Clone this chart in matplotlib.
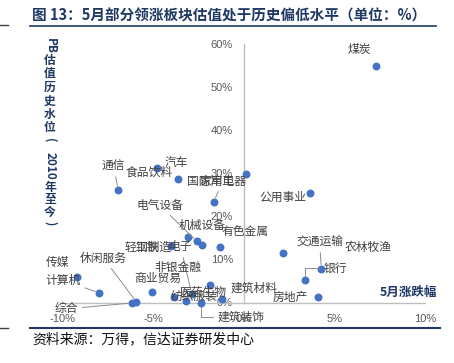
import matplotlib
matplotlib.use("Agg")
import matplotlib.pyplot as plt

plt.rcParams['font.family'] = ['Noto Sans CJK SC', 'DejaVu Sans']

# data: May change (%) vs PB historical percentile since 2010 (%)
industries = ['煤炭', '通信', '食品饮料', '汽车', '国防军工', '家用电器', '电气设备',
              '机械设备', '有色金属', '轻工制造', '钢铁', '电子', '非银金融', '商业贸易',
              '纺织服装', '医药生物', '建筑材料', '建筑装饰', '传媒', '计算机',
              '休闲服务', '综合', '公用事业', '交通运输', '农林牧渔', '银行', '房地产']
may_chg = [7.28, -6.94, -4.83, -3.67, 0.11, -1.67, -2.61,
           -3.11, -1.33, -4.06, -2.33, -2.89, -1.89, -5.06,
           -3.89, -3.22, -1.22, -2.39, -9.22, -8.00,
           -5.94, -6.17, 3.67, 4.28, 2.17, 3.39, 4.11]
pb_pct = [54.7, 26.0, 31.1, 28.6, 29.7, 23.3, 14.2,
          15.2, 12.8, 13.1, 13.3, 2.0, 4.1, 2.4,
          1.3, 0.3, 0.8, -0.1, 5.9, 2.2,
          0.1, -0.1, 25.3, 7.8, 11.5, 5.2, 1.3]

x_ticks = [-10, -5, 0, 5, 10]
y_ticks = [0, 10, 20, 30, 40, 50, 60]

# label placement (offset in pixels from the point), and which get leader lines
label_offsets = {
    '煤炭': (-16, 17), '通信': (-5, 24), '食品饮料': (-7, -4), '汽车': (-1, 17),
    '国防军工': (-35, -7), '家用电器': (9, 21), '电气设备': (-37, 36),
    '机械设备': (14, 11), '有色金属': (25, 16), '轻工制造': (-22, -1),
    '钢铁': (-54, -2), '电子': (-11, 47), '非银金融': (-32, 17),
    '商业贸易': (5, 14), '纺织服装': (20, 1), '医药生物': (18, 9),
    '建筑材料': (32, 11), '建筑装饰': (40, -14), '传媒': (-20, 15),
    '计算机': (-36, 13), '休闲服务': (-33, 44), '综合': (-66, -6),
    '公用事业': (-28, -4), '交通运输': (-2, 27), '农林牧渔': (85, 5),
    '银行': (30, 12), '房地产': (-28, -1),
}
leaders = {'通信': 'arc3', '家用电器': 'arc3', '电气设备': 'arc3', '电子': 'arc3',
           '计算机': 'arc3', '休闲服务': 'arc3', '综合': 'arc3', '交通运输': 'arc3',
           '建筑装饰': 'angle,angleA=0,angleB=90,rad=0',
           '银行': 'angle,angleA=0,angleB=90,rad=0'}

navy = '#1F3864'
W, H = 454, 363
fig = plt.figure(figsize=(W / 100, H / 100), dpi=100)
ax = fig.add_axes([63 / W, 1 - 302.5 / H, 362 / W, 259 / H])

ax.scatter(may_chg, pb_pct, s=22, color='#4472C4', zorder=3, clip_on=False)

for name, xv, yv in zip(industries, may_chg, pb_pct):
    dx, dy = label_offsets[name]
    props = None
    if name in leaders:
        props = dict(arrowstyle='-', color='#8c8c8c', lw=0.7,
                     connectionstyle=leaders[name], shrinkA=1, shrinkB=3)
    ax.annotate(name, xy=(xv, yv), xytext=(dx, dy), textcoords='offset pixels',
                ha='center', va='center', fontsize=8.5, color='#404040',
                arrowprops=props, zorder=4, annotation_clip=False)

ax.set_xlim(-10, 10)
ax.set_ylim(0, 60)
ax.spines['left'].set_position(('data', 0))
ax.spines['top'].set_visible(False)
ax.spines['right'].set_visible(False)
for s in ['left', 'bottom']:
    ax.spines[s].set_color('#bfbfbf')
    ax.spines[s].set_linewidth(1.0)
ax.set_xticks(x_ticks)
ax.set_xticklabels([f'{v}%' for v in x_ticks])
ax.set_yticks(y_ticks)
ax.set_yticklabels([f'{v}%' for v in y_ticks])
ax.tick_params(axis='x', length=0, pad=8, labelsize=8, labelcolor='#595959')
ax.tick_params(axis='y', length=0, pad=8, labelsize=8, labelcolor='#595959')
for t in ax.get_xticklabels() + ax.get_yticklabels():
    t.set_fontfamily('Liberation Sans')
ax.patch.set_alpha(0)

# x axis title
fig.text(408 / W, 1 - 292 / H, '5月涨跌幅', ha='center', va='center',
         fontsize=9, fontweight='bold', color=navy)

# vertical y axis title, CJK upright and latin rotated
ytitle = [('PB', 46.5, True), ('估', 60, False), ('值', 73.5, False), ('历', 87.5, False),
          ('史', 101, False), ('水', 114.5, False), ('位', 127.5, False), ('(', 140, True),
          ('2010', 166, True), ('年', 188, False), ('至', 200, False), ('今', 212, False),
          (')', 223, True)]
for txt, yp, rot in ytitle:
    fig.text(50 / W, 1 - yp / H, txt, ha='center', va='center', fontsize=8.5,
             fontweight='bold', color=navy, rotation=-90 if rot else 0)

# title, rules and source
fig.text(32 / W, 1 - 15 / H, '图 13：5月部分领涨板块估值处于历史偏低水平（单位：%）',
         ha='left', va='center', fontsize=10.5, fontweight='bold', color=navy)
fig.add_artist(plt.Line2D([30 / W, 436 / W], [1 - 26 / H, 1 - 26 / H], color=navy, lw=1.2))
fig.add_artist(plt.Line2D([30 / W, 440 / W], [1 - 328 / H, 1 - 328 / H], color=navy, lw=1.5))
fig.add_artist(plt.Line2D([0, 8 / W], [1 - 25 / H, 1 - 25 / H], color='#404040', lw=1))
fig.add_artist(plt.Line2D([0, 8 / W], [1 - 328 / H, 1 - 328 / H], color='#404040', lw=1))
fig.text(32 / W, 1 - 339 / H, '资料来源：万得，信达证券研发中心', ha='left', va='center',
         fontsize=10, color='#111111')

fig.savefig('out.png', dpi=100)
